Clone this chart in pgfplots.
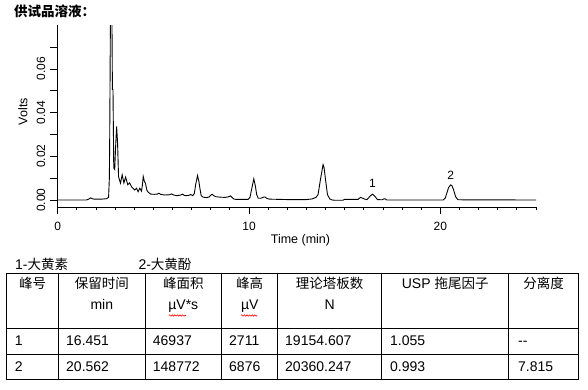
\documentclass[border=0pt]{standalone}
\usepackage{fontspec}
\setmainfont{Liberation Sans}
\newfontfamily\cjk{Noto Sans CJK SC}
\usepackage{pgfplots}
\pgfplotsset{compat=1.18}
\usetikzlibrary{decorations.pathmorphing}
\newcommand\tf{\fontsize{14bp}{16bp}\selectfont}
\newcommand\cf{\cjk\fontsize{13.5bp}{16bp}\selectfont}
\begin{document}
\begin{tikzpicture}
\useasboundingbox (0,0) rectangle (588bp,390bp);
\begin{axis}[
  at={(57.7bp,183bp)}, anchor=south west,
  scale only axis, width=478.3bp, height=182bp,
  xmin=0, xmax=25, ymin=-0.0032, ymax=0.0801,
  axis x line=bottom, axis y line=left,
  axis line style={-, line width=0.9bp, black},
  tick align=outside,
  major tick length=7.5bp, minor tick length=3.5bp,
  tick style={black, line width=0.8bp},
  scaled x ticks=false, scaled y ticks=false,
  xtick={0,10,20}, xticklabels={\mbox{0},\mbox{10},\mbox{20}},
  minor xtick={1,2,3,4,5,6,7,8,9,11,12,13,14,15,16,17,18,19,21,22,23,24,25},
  ytick={0,0.01,0.02,0.03,0.04,0.05,0.06,0.07},
  yticklabels={\mbox{0.00},{},\mbox{0.02},{},\mbox{0.04},{},\mbox{0.06},{}},
  tick label style={font=\fontsize{12bp}{14bp}\selectfont},
  xticklabel style={anchor=base},
  yticklabel style={rotate=90, anchor=base},
  xticklabel shift=16bp, yticklabel shift=5bp,
  xlabel={Time (min)}, ylabel={Volts},
  label style={font=\fontsize{12.5bp}{14bp}\selectfont},
  xlabel style={at={(axis description cs:0.5076,-0.2033)}, anchor=base},
  ylabel style={at={(axis description cs:-0.0636,0.5236)}, anchor=base, rotate=0},
  clip=true,
]
\addplot[black, line width=0.9bp] table {
t v
0 0
1.50 0
1.62 0.0004
1.72 0.0010
1.80 0.0006
1.90 0.0004
2.30 0.0004
2.55 0.0006
2.66 0.0012
2.70 0.0100
2.72 0.0300
2.76 0.0900
2.80 0.0900
2.83 0.0900
2.86 0.0506
2.89 0.0506
2.93 0.0147
2.98 0.0140
3.03 0.0250
3.08 0.0337
3.13 0.0260
3.18 0.0107
3.28 0.0077
3.37 0.0115
3.46 0.0078
3.55 0.0105
3.66 0.0070
3.76 0.0078
3.86 0.0061
3.95 0.0052
4.03 0.0046
4.12 0.0054
4.20 0.0038
4.29 0.0054
4.38 0.0041
4.43 0.0070
4.47 0.0108
4.53 0.0085
4.59 0.0076
4.66 0.0045
4.73 0.0036
4.86 0.0027
5.05 0.0026
5.20 0.0027
5.29 0.0031
5.40 0.0025
5.60 0.0023
5.85 0.0024
5.95 0.0028
6.05 0.0023
6.21 0.0020
6.40 0.0022
6.53 0.0027
6.62 0.0021
6.74 0.0020
6.88 0.0022
6.95 0.0025
7.06 0.0020
7.14 0.0030
7.22 0.0075
7.31 0.0112
7.38 0.0085
7.43 0.0055
7.50 0.0020
7.60 0.0013
7.78 0.0011
7.92 0.0014
8.02 0.0024
8.08 0.0026
8.15 0.0020
8.27 0.0015
8.50 0.0013
8.74 0.0012
8.90 0.0014
9.03 0.0019
9.10 0.0013
9.20 0.0005
9.30 0.0003
9.95 0.0003
10.05 0.0012
10.15 0.0055
10.25 0.0097
10.33 0.0065
10.40 0.0025
10.48 0.0008
10.62 0.0008
10.75 0.0013
10.83 0.0014
10.92 0.0008
11.05 0.0004
12.00 0.0002
13.00 0.0002
13.30 0.0005
13.50 0.0012
13.61 0.0025
13.73 0.0092
13.87 0.0162
13.92 0.0150
14.00 0.0092
14.10 0.0025
14.22 0.0005
14.35 0.0000
14.48 -0.0001
14.90 -0.0001
15.00 0.0003
15.70 0.0003
15.82 0.0012
15.92 0.0009
16.05 0.0004
16.17 0.0002
16.31 0.0016
16.45 0.0027
16.59 0.0016
16.71 0.0002
16.95 0.0001
17.05 0.0005
17.12 0.0005
17.20 0.0000
20.15 0.0000
20.25 0.0008
20.31 0.0023
20.43 0.0057
20.54 0.0069
20.60 0.0066
20.68 0.0050
20.80 0.0015
20.92 0.0001
25.00 0.0000
};
\node[font=\fontsize{12bp}{14bp}\selectfont] at (axis cs:16.45,0.0076) {1};
\node[font=\fontsize{12bp}{14bp}\selectfont] at (axis cs:20.54,0.0114) {2};
\end{axis}
% title
\node[anchor=base west, inner sep=0pt, font=\cjk\bfseries\fontsize{13.5bp}{16bp}\selectfont] at (14bp,373.5bp) {供试品溶液：};
% legend
\node[anchor=base west, inner sep=0pt, font=\tf] at (15bp,120bp) {1-{\cf 大黄素}};
\node[anchor=base west, inner sep=0pt, font=\tf] at (138.3bp,120bp) {2-{\cf 大黄酚}};
% table lines
\begin{scope}[line width=1bp, black]
\foreach \y in {116,61,35.7,10} \draw (6.2bp,\y bp) -- (579.2bp,\y bp);
\foreach \x in {6.7,58.7,145,221.7,277.7,381.7,508.7,578.7} \draw (\x bp,116bp) -- (\x bp,10bp);
\end{scope}
% header
\begin{scope}[every node/.style={anchor=base, inner sep=0pt, font=\tf}]
\node at (32.7bp,101bp) {\cf 峰号};
\node at (101.8bp,101bp) {\cf 保留时间};
\node at (183.3bp,101bp) {\cf 峰面积};
\node at (249.7bp,101bp) {\cf 峰高};
\node at (329.7bp,101bp) {\cf 理论塔板数};
\node at (445.2bp,101bp) {USP {\cf 拖尾因子}};
\node at (543.7bp,101bp) {\cf 分离度};
\node at (101.8bp,80bp) {min};
\node at (183.3bp,80bp) {µV*s};
\node at (249.7bp,80bp) {µV};
\node at (329.7bp,80bp) {N};
\end{scope}
\draw[red, line width=0.6bp, decorate, decoration={snake, amplitude=0.7bp, segment length=2.6bp}] (168.8bp,74.5bp) -- (186bp,74.5bp);
\draw[red, line width=0.6bp, decorate, decoration={snake, amplitude=0.7bp, segment length=2.6bp}] (241bp,74.5bp) -- (257bp,74.5bp);
% rows
\begin{scope}[every node/.style={anchor=base west, inner sep=0pt, font=\tf}]
\node at (14.7bp,44.3bp) {1};
\node at (66bp,44.3bp) {16.451};
\node at (152.7bp,44.3bp) {46937};
\node at (229bp,44.3bp) {2711};
\node at (285bp,44.3bp) {19154.607};
\node at (390bp,44.3bp) {1.055};
\node at (518bp,44.3bp) {{-}{-}};
\node at (14.7bp,18.3bp) {2};
\node at (66bp,18.3bp) {20.562};
\node at (152.7bp,18.3bp) {148772};
\node at (229bp,18.3bp) {6876};
\node at (285bp,18.3bp) {20360.247};
\node at (390bp,18.3bp) {0.993};
\node at (518bp,18.3bp) {7.815};
\end{scope}
\end{tikzpicture}
\end{document}
